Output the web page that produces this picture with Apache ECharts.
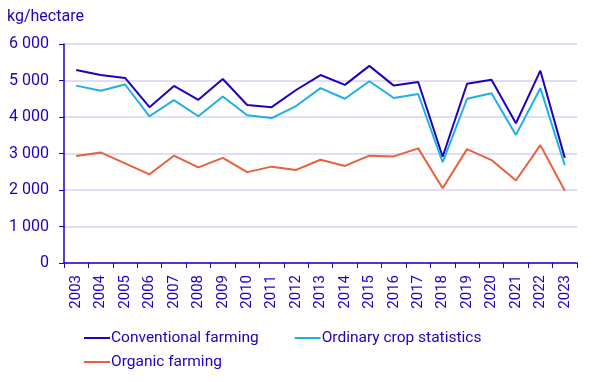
<!DOCTYPE html>
<html><head><meta charset="utf-8">
<script src="https://cdn.jsdelivr.net/npm/echarts@6/dist/echarts.min.js"></script>
<style>html,body{margin:0;padding:0;background:#fff}#c{width:603px;height:382px}</style>
</head><body><div id="c"></div>
<script>
const years = ['2003','2004','2005','2006','2007','2008','2009','2010','2011','2012','2013','2014','2015','2016','2017','2018','2019','2020','2021','2022','2023'];
const conventional = [5290,5150,5070,4270,4850,4470,5040,4330,4270,4740,5150,4880,5400,4860,4960,2910,4910,5020,3830,5270,2880];
const ordinary = [4860,4720,4890,4020,4460,4020,4560,4050,3970,4300,4790,4500,4980,4520,4630,2760,4500,4650,3510,4790,2680];
const organic = [2930,3030,2730,2430,2940,2620,2880,2490,2640,2550,2830,2660,2940,2920,3140,2050,3120,2820,2260,3230,1980];
const seriesNames = ['Conventional farming','Ordinary crop statistics','Organic farming'];
const colors = ['#1E00BE','#1DB0E6','#E8603C'];
const txt = '#1E00BE';
const font = 'Roboto';
const chart = echarts.init(document.getElementById('c'));
const fmt = v => String(v).replace(/\B(?=(\d{3})+(?!\d))/g, ' ');
const legendBase = {
  padding: 0, itemGap: 36, itemWidth: 26, itemHeight: 2, icon: 'rect',
  textStyle: { color: txt, fontSize: 15.5, fontFamily: font, padding: [0,0,0,-4] }
};
chart.setOption({
  animation: false,
  title: { text: 'kg/hectare', left: 7, top: 9, padding: 0, textStyle: { color: txt, fontSize: 16, fontWeight: 'normal', fontFamily: font } },
  grid: { left: 64, right: 26, top: 44, bottom: 119 },
  legend: [
    Object.assign({}, legendBase, { left: 84, top: 330, data: [seriesNames[0], seriesNames[1]] }),
    Object.assign({}, legendBase, { left: 84, top: 354, data: [seriesNames[2]] })
  ],
  xAxis: {
    type: 'category', data: years, boundaryGap: true,
    axisLine: { lineStyle: { color: txt, width: 1.5 } },
    axisTick: { show: true, length: 5, lineStyle: { color: txt } },
    axisLabel: { rotate: 90, color: txt, fontSize: 15, fontFamily: font, margin: 12, interval: 0 }
  },
  yAxis: {
    type: 'value', min: 0, max: 6000, interval: 1000,
    axisLine: { show: true, lineStyle: { color: txt, width: 1.5 } },
    axisTick: { show: true, length: 5, lineStyle: { color: txt } },
    splitLine: { lineStyle: { color: '#D6D3F2', width: 1.5 } },
    axisLabel: { color: txt, fontSize: 16, fontFamily: font, margin: 15, formatter: fmt }
  },
  series: [
    { name: seriesNames[0], type: 'line', data: conventional, symbol: 'none', lineStyle: { width: 2, color: colors[0] }, itemStyle: { color: colors[0] } },
    { name: seriesNames[1], type: 'line', data: ordinary, symbol: 'none', lineStyle: { width: 2, color: colors[1] }, itemStyle: { color: colors[1] } },
    { name: seriesNames[2], type: 'line', data: organic, symbol: 'none', lineStyle: { width: 2, color: colors[2] }, itemStyle: { color: colors[2] } }
  ]
});
</script></body></html>
